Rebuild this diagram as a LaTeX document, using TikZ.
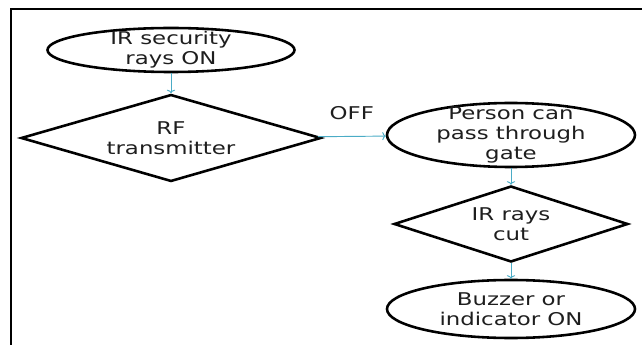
\documentclass[tikz,border=0pt]{standalone}
\usepackage{fontspec}
\setmainfont{DejaVu Sans}[FakeStretch=1.3]
\usepackage{tikz}
\usetikzlibrary{arrows.meta}
\usetikzlibrary{shapes.geometric}
\definecolor{aqua}{RGB}{75,172,198}
\definecolor{ink}{RGB}{30,30,30}

\begin{document}
\begin{tikzpicture}[x=0.03cm, y=-0.03cm]
\tikzstyle{oval}=[draw, ellipse, line width=2.2pt, inner xsep=0pt, inner ysep=-14pt, align=center, text=ink, font=\fontsize{15}{17}\selectfont]
\tikzstyle{dec}=[draw, diamond, line width=2.2pt, inner sep=0pt, align=center, text=ink, font=\fontsize{15}{17}\selectfont]
\tikzstyle{lbl}=[midway, inner sep = 1 pt, text=ink, font=\fontsize{15}{17}\selectfont]
\tikzstyle{flow}=[draw=aqua, line width=0.8pt, -{To[length=3pt, width=7pt]}]
\useasboundingbox (0,0) rectangle (642,345);
% frame
\draw[line width=1.5pt] (11,345) -- (11,9) -- (642,9);
\node[oval, minimum width=7.41cm, minimum height=1.32cm] (I) at (171,50) {IR security\\rays ON} ;
\node[dec, aspect=3.45, minimum width=9cm, minimum height=2.61cm] (R) at (171,138) {RF\\transmitter} ;
\node[oval, minimum width=7.44cm, minimum height=1.92cm] (P) at (511,135) {Person can\\pass through\\gate} ;
\node[dec, aspect=3.08, minimum width=7.02cm, minimum height=2.28cm] (C) at (511,224) {IR rays\\cut} ;
\node[oval, minimum width=7.44cm, minimum height=1.74cm] (B) at (511,309) {Buzzer or\\indicator ON} ;
\foreach \i/\j in {I/R, P/C, C/B}{
\draw[flow] (\i) -- (\j);}
\draw[flow] (R) -- node[lbl, yshift=0.69cm]{OFF} (P);
\end{tikzpicture}
\end{document}
